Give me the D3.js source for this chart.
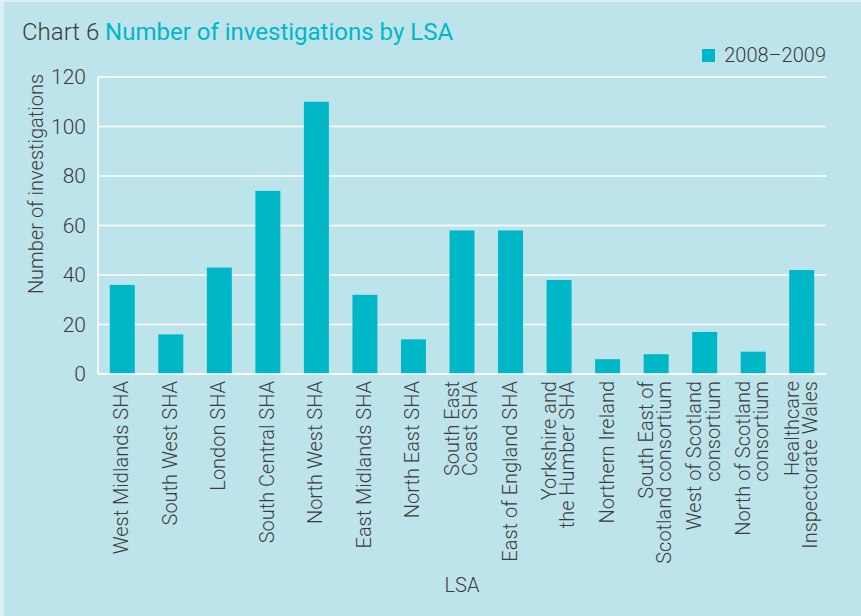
<!DOCTYPE html>
<html>
<head>
<meta charset="utf-8">
<script src="https://cdn.jsdelivr.net/npm/d3@7"></script>
<style>
	body { margin: 0; background: #d9eff3; }
	svg { display: block; font-family: Roboto, "DejaVu Sans", sans-serif; }
	.tick text { fill: #3b3b3b; }
</style>
</head>
<body>
<div id="chart"></div>
<script>
// categories (\n = line break in the rotated label)
var categories = [
	'West Midlands SHA', 'South West SHA', 'London SHA', 'South Central SHA',
	'North West SHA', 'East Midlands SHA', 'North East SHA', 'South East\nCoast SHA',
	'East of England SHA', 'Yorkshire and\nthe Humber SHA', 'Northern Ireland',
	'South East of\nScotland consortium', 'West of Scotland\nconsortium',
	'North of Scotland\nconsortium', 'Healthcare\nInspectorate Wales'
]
var values = [36, 16, 43, 74, 110, 32, 14, 58, 58, 38, 6, 8, 17, 9, 42]
var yTicks = [0, 20, 40, 60, 80, 100, 120]
var seriesName = '2008\u20132009'

var W = 861, H = 616
var margin = { top: 77, left: 98, right: 35, bottom: 242 }
var chartWidth = W - margin.left - margin.right
var chartHeight = H - margin.top - margin.bottom

var teal = '#00b7c8'
var textColor = '#3b3b3b'

var svg = d3.select('#chart').append('svg')
	.attr('width', W)
	.attr('height', H)

svg.append('rect')
	.attr('x', 4).attr('y', 2)
	.attr('width', W - 4).attr('height', H - 2)
	.attr('fill', '#bee4eb')

// title
var title = svg.append('text')
	.attr('x', 22)
	.attr('y', 40)
	.attr('font-size', 24)
title.append('tspan').attr('fill', textColor).attr('font-weight', 300).text('Chart 6 ')
title.append('tspan').attr('fill', teal).text('Number of investigations by LSA')

// legend
svg.append('rect')
	.attr('x', 702).attr('y', 49)
	.attr('width', 13).attr('height', 13)
	.attr('fill', teal)
svg.append('text')
	.attr('x', 826).attr('y', 62)
	.attr('text-anchor', 'end')
	.attr('font-size', 20)
	.attr('font-weight', 300)
	.attr('fill', textColor)
	.text(seriesName)

var chartInner = svg.append('g')
	.attr('transform', 'translate(' + margin.left + ',' + margin.top + ')')

var yScale = d3.scaleLinear()
	.domain([0, 120])
	.range([chartHeight, 0])

var xScale = d3.scaleBand()
	.domain(categories)
	.range([0, chartWidth])
	.paddingInner(0.485)
	.paddingOuter(0.2425)

// gridlines
chartInner.append('g')
	.selectAll('line')
	.data(yTicks)
	.enter().append('line')
	.attr('x1', 0)
	.attr('x2', chartWidth)
	.attr('y1', function(d) { return yScale(d) })
	.attr('y2', function(d) { return yScale(d) })
	.attr('stroke', '#fff')
	.attr('stroke-width', 1.5)

chartInner.append('line')
	.attr('x1', 0).attr('x2', 0)
	.attr('y1', 0).attr('y2', chartHeight)
	.attr('stroke', '#fff')
	.attr('stroke-width', 1.5)

var yAxis = chartInner.append('g')
	.call(d3.axisLeft(yScale).tickValues(yTicks).tickSize(0).tickPadding(12))
yAxis.select('.domain').remove()
yAxis.selectAll('text')
	.attr('font-size', 21)
	.attr('font-weight', 300)
	.attr('font-family', 'Roboto, sans-serif')

// bars
chartInner.selectAll('rect.bar')
	.data(values)
	.enter().append('rect')
	.attr('class', 'bar')
	.attr('x', function(d, i) { return xScale(categories[i]) })
	.attr('y', function(d) { return yScale(d) })
	.attr('width', xScale.bandwidth())
	.attr('height', function(d) { return chartHeight - yScale(d) })
	.attr('fill', teal)

// redraw baseline over bars
chartInner.append('line')
	.attr('x1', 0).attr('x2', chartWidth)
	.attr('y1', chartHeight).attr('y2', chartHeight)
	.attr('stroke', '#fff')
	.attr('stroke-width', 1.5)

// category labels, rotated
var labels = chartInner.append('g')
	.selectAll('text')
	.data(categories)
	.enter().append('text')
	.attr('transform', function(d) {
		var cx = xScale(d) + xScale.bandwidth() / 2
		return 'translate(' + cx + ',' + (chartHeight + 7) + ') rotate(-90)'
	})
	.attr('text-anchor', 'end')
	.attr('font-size', 20)
	.attr('font-weight', 300)
	.attr('fill', textColor)

labels.each(function(d) {
	var lines = d.split('\n')
	var _this = d3.select(this)
	lines.forEach(function(line, i) {
		var off = (i - (lines.length - 1) / 2) * 0.92 + 0.3
		_this.append('tspan')
			.attr('x', 0)
			.attr('y', 0)
			.attr('dy', off + 'em')
			.text(line)
	})
})

// axis titles
svg.append('text')
	.attr('transform', 'translate(43,184) rotate(-90)')
	.attr('text-anchor', 'middle')
	.attr('font-size', 20)
	.attr('font-weight', 300)
	.attr('fill', textColor)
	.text('Number of investigations')

svg.append('text')
	.attr('x', margin.left + chartWidth / 2)
	.attr('y', 592)
	.attr('text-anchor', 'middle')
	.attr('font-size', 20)
	.attr('font-weight', 300)
	.attr('fill', textColor)
	.text('LSA')
</script>
</body>
</html>
